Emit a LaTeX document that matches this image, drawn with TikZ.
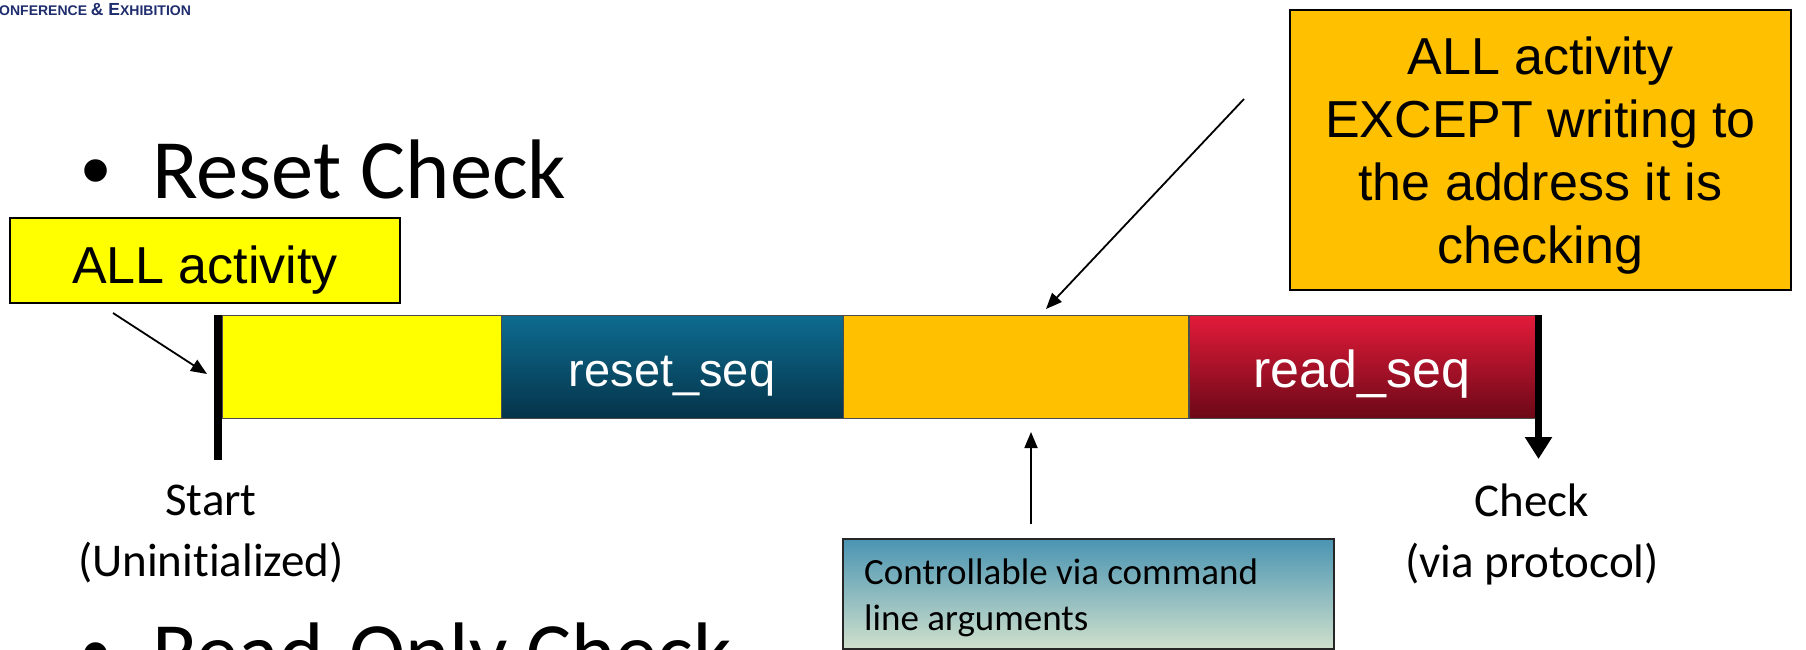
\documentclass[tikz,border=0pt]{standalone}
\usepackage{fontspec}
\setmainfont{Liberation Sans}
\newfontfamily\calfont[Ligatures=NoCommon]{Carlito}
\usetikzlibrary{arrows.meta}
\definecolor{segyellow}{HTML}{FFFF00}
\definecolor{segorange}{HTML}{FFC000}
\definecolor{resettop}{HTML}{0E6C90}
\definecolor{resetbot}{HTML}{05344A}
\definecolor{readtop}{HTML}{E31B3A}
\definecolor{readbot}{HTML}{6C0817}
\definecolor{logonavy}{HTML}{1F2D6E}
\definecolor{cltop}{HTML}{4A94B2}
\definecolor{clbot}{HTML}{CFE0CC}
\begin{document}
\begin{tikzpicture}[x=1pt,y=-1pt,
  seg/.style={draw=black!70, line width=1pt, inner sep=0pt, outer sep=0pt, minimum height=103pt, anchor=north west},
  segtext/.style={text=white, inner sep=0pt},
  callout/.style={draw=black, line width=1.5pt, inner sep=0pt, minimum width=0pt},
  callouttext/.style={align=center, inner sep=0pt, font=\fontsize{52}{63}\selectfont},
  thinarrow/.style={line width=1.8pt, -{Triangle[width=13pt,length=16pt]}},
  lbl/.style={align=center, font=\calfont\fontsize{47}{61}\selectfont},
  bigtext/.style={anchor=base west, inner sep=0pt, font=\calfont\fontsize{84.5}{100}\selectfont},
  bullet/.style={anchor=base west, inner sep=0pt, font=\fontsize{83}{100}\selectfont}
]
\clip (0,0) rectangle (1806,650);
\fill[white] (0,0) rectangle (1806,650);

% logo fragment
\node[anchor=base west, inner sep=0pt, text=logonavy, font=\bfseries] (logo) at (-1,16)
  {{\fontsize{14}{16}\selectfont ONFERENCE }{\fontsize{17.5}{18}\selectfont \& E}{\fontsize{14}{16}\selectfont XHIBITION}};

% bullets
\node[bullet] (b1) at (81,198) {•};
\node[bigtext] (t1) at (152,198) {Reset Check};
\node[bullet] (b2) at (81,681) {•};
\node[bigtext] (t2) at (152,681) {Read-Only Check};

% callouts
\node[callout, fill=segyellow, minimum width=390pt, minimum height=85pt] (allbox) at (205,260.5) {};
\node[callouttext] (alltext) at (205,270) {ALL activity};
\node[callout, fill=segorange, minimum width=501pt, minimum height=280pt] (exceptbox) at (1540.5,150) {};
\node[callouttext] (excepttext) at (1540.5,156)
  {ALL activity\\EXCEPT writing to\\the address it is\\checking};

% timeline segments
\node[seg, fill=segyellow, minimum width=279pt] (s1) at (222,315) {};
\node[seg, top color=resettop, bottom color=resetbot, minimum width=342pt] (s2) at (501,315) {};
\node[segtext, font=\fontsize{47}{56}\selectfont] (s2t) at (672,376) {reset\_seq};
\node[seg, fill=segorange, minimum width=345pt] (s3) at (843,315) {};
\node[seg, top color=readtop, bottom color=readbot, minimum width=346pt] (s4) at (1189,315) {};
\node[segtext, font=\fontsize{52}{60}\selectfont] (s4t) at (1362,374) {read\_seq};

% start bar and end arrow
\coordinate (startTop) at (218,315);
\coordinate (startBot) at (218,460);
\draw[line width=8pt] (startTop) -- (startBot);
\coordinate (endTop) at (1538.5,315);
\coordinate (endBot) at (1538.5,459);
\draw[line width=7pt, -{Triangle[width=26pt,length=22pt]}] (endTop) -- (endBot);

% labels
\node[lbl] (startlbl) at (211,534) {Start\\(Uninitialized)};
\node[lbl] (checklbl) at (1532,534) {Check\\(via protocol)};

% command-line box
\node[draw=black!85, line width=1.5pt, top color=cltop, bottom color=clbot, anchor=north west,
      minimum width=491pt, minimum height=110pt] (cmdbox) at (842,538) {};
\node[anchor=west, inner sep=0pt, align=left, font=\calfont\fontsize{37}{46}\selectfont] (cmdtext) at (864,598)
  {Controllable via command\\line arguments};

% connectors
\coordinate (a1) at (113,313);
\coordinate (a1t) at (207,374);
\draw[thinarrow] (a1) -- (a1t);
\coordinate (a2) at (1244,99);
\coordinate (a2t) at (1046,309);
\draw[thinarrow] (a2) -- (a2t);
\coordinate (a3) at (1031,524);
\coordinate (a3t) at (1031,432);
\draw[thinarrow] (a3) -- (a3t);
\end{tikzpicture}
\end{document}
